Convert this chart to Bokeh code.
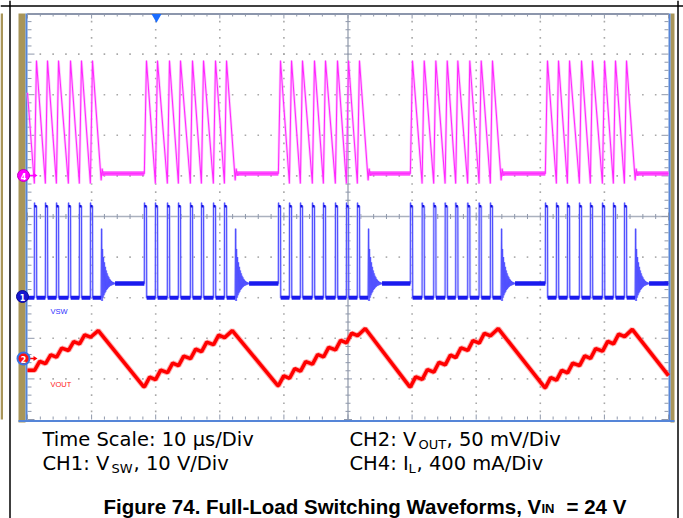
import numpy as np
from bokeh.plotting import figure
from bokeh.models import Range1d
from bokeh.core.properties import value
from bokeh.embed import file_html
from bokeh.resources import INLINE

# ---------------- values ----------------
TIME_PER_DIV_US = 10
N_XDIV, N_YDIV = 10, 10

# instants (us) of the inductor-current peaks of every switching burst
burst_1 = [1.40, 3.12, 4.84, 6.71, 8.42, 10.14]
burst_2 = [18.56, 20.28, 22.15, 23.87, 25.74, 27.46, 29.33, 31.05]
burst_3 = [39.47, 41.19, 42.90, 44.77, 46.49, 48.36, 50.08, 51.79]
burst_4 = [60.06, 61.89, 63.70, 65.48, 67.13, 69.00, 70.78, 72.54]
burst_5 = [81.12, 82.84, 84.56, 86.43, 88.14, 90.02, 91.73, 93.45]
bursts = [burst_1, burst_2, burst_3, burst_4, burst_5]

# CH4 inductor current (divisions on screen)
il_start = 3.05
il_peak = 3.84
il_valley = 0.81
il_zero = 1.06

# CH1 switch node (divisions)
vsw_low = -2.0
vsw_high = 0.25
vsw_overshoot = 0.34
vsw_idle = -1.65
ring_hi = [-0.30, -0.80, -1.00, -1.13, -1.24, -1.33, -1.40, -1.46, -1.50, -1.54, -1.57, -1.59, -1.61, -1.62, -1.63]
ring_lo = [-2.08, -2.00, -1.94, -1.89, -1.85, -1.81, -1.78, -1.75, -1.73, -1.71, -1.70, -1.69, -1.68, -1.67, -1.66]

# CH2 output voltage (divisions)
vout_start = -3.79
vout_end = -3.92
vout_peaks = [-2.81, -2.81, -2.76, -2.76, -2.78]
vout_troughs = [-4.19, -4.16, -4.19, -4.21]   # just before bursts 2..5

# timing (us)
t_on = 0.33
t_decay = 1.35

# ---------------- layout (reference pixel geometry) ----------------
W, H = 683, 518
OX, OY = 0, 0
SX0, SX1, SY0, SY1 = 27, 668, 13, 419
ppx = (SX1 - SX0) / (N_XDIV * TIME_PER_DIV_US)
ppy = (SY1 - SY0) / N_YDIV
SYC = (SY0 + SY1) / 2

p = figure(width=W, height=H, output_backend="svg", toolbar_location=None,
           x_range=Range1d(OX, OX + W), y_range=Range1d(OY + H, OY),
           x_axis_type=None, y_axis_type=None, min_border=0, title=None)
p.outline_line_color = None
p.background_fill_color = "white"
p.border_fill_color = "white"
p.extra_x_ranges = {"t": Range1d((OX - SX0) / ppx, (OX + W - SX0) / ppx)}
p.extra_y_ranges = {"v": Range1d((SYC - (OY + H)) / ppy, (SYC - OY) / ppy)}
S = dict(x_range_name="t", y_range_name="v")

# page frame lines and neighbouring bezel strip
p.quad(left=[0], right=[2.5], top=[13], bottom=[419], fill_color="#a89559", line_color=None)
p.segment(x0=[9.5, 677.5, 0], y0=[0, 0, 5.5], x1=[9.5, 677.5, 683], y1=[518, 518, 5.5],
          line_color="black", line_width=1.5)
# scope bezel
p.quad(left=[18, 670], right=[25, 674], top=[13, 13], bottom=[422, 422],
       fill_color="#a89559", line_color=None)
p.segment(x0=[26, 669, 18], y0=[13, 13, 420.5], x1=[26, 669, 674], y1=[421, 421, 420.5],
          line_color="#5585d8", line_width=2)
p.segment(x0=[27], y0=[13.5], x1=[668], y1=[13.5], line_color="#8c96ac", line_width=2)

# ---------------- graticule (scope units) ----------------
tmax = N_XDIV * TIME_PER_DIV_US
vmax = N_YDIV / 2
minor_t = np.arange(0, tmax + 0.01, TIME_PER_DIV_US / 5)
minor_v = np.round(np.arange(-vmax, vmax + 0.01, 0.2), 3)
major_t = [k * TIME_PER_DIV_US for k in range(1, N_XDIV) if k != N_XDIV // 2]
major_v = [k for k in range(-4, 5) if k != 0]
dx, dy = [], []
for mt in major_t:
    for mv in minor_v[1:-1]:
        dx.append(mt); dy.append(mv)
for mv in major_v:
    for mt in minor_t[1:-1]:
        dx.append(mt); dy.append(mv)
p.scatter(dx, dy, marker="square", size=1.6, fill_color="#a8a8a8", line_color=None, **S)

p.segment(x0=[tmax / 2, 0], y0=[-vmax, 0], x1=[tmax / 2, tmax], y1=[vmax, 0],
          line_color="#aab1be", line_width=1.6, **S)

def is_major_t(t):
    return abs(t / TIME_PER_DIV_US - round(t / TIME_PER_DIV_US)) < 1e-6

def is_major_v(v):
    return abs(v - round(v)) < 1e-6

tx0, ty0, tx1, ty1 = [], [], [], []
for t in minor_t:
    h1 = (5 if is_major_t(t) else 3) / ppy
    hc = (4 if is_major_t(t) else 2.5) / ppy
    tx0 += [t, t, t]; tx1 += [t, t, t]
    ty0 += [vmax, -vmax, -hc]; ty1 += [vmax - h1, -vmax + h1, hc]
for v in minor_v:
    w1 = (7 if is_major_v(v) else 4) / ppx
    wc = (4 if is_major_v(v) else 2.5) / ppx
    ty0 += [v, v, v]; ty1 += [v, v, v]
    tx0 += [0, tmax, tmax / 2 - wc]; tx1 += [w1, tmax - w1, tmax / 2 + wc]
p.segment(x0=tx0, y0=ty0, x1=tx1, y1=ty1, line_color="#8f98ab", line_width=1, **S)

# ---------------- traces ----------------
def build_il():
    t = [0.0]; v = [il_start]; flats = []
    for bi, b in enumerate(bursts):
        for i, pk in enumerate(b):
            t.append(pk - t_on); v.append(il_zero if (bi > 0 and i == 0) else il_valley)
            t.append(pk); v.append(il_peak)
        te = b[-1] + t_decay
        t += [te, te + 0.15, te + 0.35, te + 0.6]
        v += [il_valley + 0.08, il_zero + 0.12, il_zero - 0.05, il_zero]
        end = bursts[bi + 1][0] - t_on if bi + 1 < len(bursts) else tmax
        flats.append((te + 0.15, end))
    t.append(tmax); v.append(il_zero)
    return t, v, flats

def build_vsw():
    t = [0.0]; v = [vsw_low]; lows = []; idles = []; tops = []
    prev = 0.0
    for bi, b in enumerate(bursts):
        for i, pk in enumerate(b):
            r = pk - t_on
            lvl = vsw_idle if (bi > 0 and i == 0) else vsw_low
            if lvl == vsw_low:
                lows.append((prev, r))
            t += [r, r + 0.02, r + 0.07, pk, pk + 0.03]
            v += [lvl, vsw_overshoot, vsw_high, vsw_high, vsw_low]
            tops.append((r + 0.02, pk))
            prev = pk + 0.03
        rs = b[-1] + t_decay
        lows.append((prev, rs))
        t.append(rs); v.append(vsw_low)
        dt = 0.07
        for k, (hi, lo) in enumerate(zip(ring_hi, ring_lo)):
            t += [rs + dt * (2 * k + 1), rs + dt * (2 * k + 2)]
            v += [hi, lo]
        re = rs + dt * (2 * len(ring_hi) + 1)
        t.append(re); v.append(vsw_idle)
        end = bursts[bi + 1][0] - t_on if bi + 1 < len(bursts) else tmax
        idles.append((re, end))
    t.append(tmax); v.append(vsw_idle)
    return t, v, lows, idles, tops

def build_vout():
    t = [0.0]; v = [vout_start]
    starts = [(0.0, vout_start)] + [(b[0] - 0.45, tr) for b, tr in zip(bursts[1:], vout_troughs)]
    for bi, b in enumerate(bursts):
        ts, vs = starts[bi]
        if bi > 0:
            t.append(ts); v.append(vs)
        n = len(b); step = (vout_peaks[bi] - vs) / n
        for i, pk in enumerate(b):
            base = vs + i * step
            t.append(pk - 0.3); v.append(base)
            if i < n - 1:
                t.append(pk + 0.5); v.append(base + 1.35 * step)
            else:
                t.append(pk + 0.9); v.append(vout_peaks[bi])
    t.append(tmax); v.append(vout_end)
    return t, v

il_t, il_v, il_flats = build_il()
sw_t, sw_v, sw_lows, sw_idles, sw_tops = build_vsw()
vo_t, vo_v = build_vout()

# CH4
p.line(il_t, il_v, line_color="#ffa8ff", line_width=2.6, line_alpha=0.65, **S)
p.line(il_t, il_v, line_color="#ff28ff", line_width=1.05, **S)
p.segment(x0=[a for a, b in il_flats], x1=[b for a, b in il_flats],
          y0=[il_zero] * len(il_flats), y1=[il_zero] * len(il_flats),
          line_color="#ff30ff", line_width=4.5, line_alpha=0.85, **S)
# CH1
p.line(sw_t, sw_v, line_color="#a8a8ff", line_width=2.6, line_alpha=0.6, **S)
p.line(sw_t, sw_v, line_color="#5050ff", line_width=1.0, **S)
p.segment(x0=[a for a, b in sw_lows], x1=[b for a, b in sw_lows],
          y0=[vsw_low] * len(sw_lows), y1=[vsw_low] * len(sw_lows),
          line_color="#1a1aee", line_width=4, **S)
p.segment(x0=[a for a, b in sw_idles], x1=[b for a, b in sw_idles],
          y0=[vsw_idle] * len(sw_idles), y1=[vsw_idle] * len(sw_idles),
          line_color="#1a1aee", line_width=4.5, **S)
p.segment(x0=[a for a, b in sw_tops], x1=[b for a, b in sw_tops],
          y0=[vsw_high] * len(sw_tops), y1=[vsw_high] * len(sw_tops),
          line_color="#1010dd", line_width=2.5, **S)
# CH2
p.line(vo_t, vo_v, line_color="#ff5050", line_width=5.5, line_alpha=0.45, **S)
p.line(vo_t, vo_v, line_color="#ff0000", line_width=3.5, **S)

# ---------------- markers and small scope labels (reference pixels) ----------------
p.scatter([156], [16.5], marker="inverted_triangle", size=10, fill_color="#1a6cff", line_color=None)
p.segment(x0=[28, 28], y0=[175, 358], x1=[34, 34], y1=[175, 358],
          line_color=["#ff00ff", "#ff0000"], line_width=1.5)
p.patches(xs=[[33, 37, 33], [33, 37, 33]], ys=[[172.5, 175, 177.5], [355.5, 358, 360.5]],
          fill_color=["#ff00ff", "#ff0000"], line_color=None)
p.scatter([23, 22, 23], [175, 296, 358], marker="circle", size=[12, 12, 12],
          fill_color=["#ff00ff", "#1515d0", "#ff1010"],
          line_color=["#c000c0", "#0b0b90", "#3a72e0"], line_width=[1, 1, 2])
p.text([23, 22, 23], [175.5, 296.5, 358.5], text=["4", "1", "2"], text_color="white",
       text_font=value("DejaVu Sans"), text_font_size=value("8px"), text_font_style="bold",
       text_align="center", text_baseline="middle")
p.text([50], [311], text=["VSW"], text_color="#3030ff", text_font=value("Liberation Sans"),
       text_font_size=value("7.5px"), text_align="left", text_baseline="middle")
p.text([50], [384], text=["VOUT"], text_color="#ff2020", text_font=value("Liberation Sans"),
       text_font_size=value("7.5px"), text_align="left", text_baseline="middle")

# ---------------- caption texts ----------------
DY = -7  # renderer places alphabetic baselines slightly low
F = value("DejaVu Sans")
main_txt = dict(text_font=F, text_font_size=value("19.5px"), text_color="black",
                text_align="left", text_baseline="alphabetic")
sub_txt = dict(text_font=F, text_font_size=value("13px"), text_color="black",
               text_align="left", text_baseline="alphabetic")
L1, L2 = 445.7 + DY, 469.7 + DY
p.text([42, 42, 133, 349, 349, 446, 416],
       [L1, L2, L2, L1, L2, L1, L2],
       text=["Time Scale: 10 µs/Div", "CH1: V", ", 10 V/Div", "CH2: V", "CH4: I",
             ", 50 mV/Div", ", 400 mA/Div"], **main_txt)
p.text([111, 418, 408], [L2 + 4.8, L1 + 4.8, L2 + 4.8], text=["SW", "OUT", "L"], **sub_txt)

CF = value("Liberation Sans")
CB = 513 + DY
p.text([103], [CB], text=["Figure 74. Full-Load Switching Waveforms, V"], text_font=CF,
       text_font_size=value("20.5px"), text_font_style="bold", text_color="black",
       text_align="left", text_baseline="alphabetic")
p.text([541], [CB + 2], text=["IN"], text_font=CF, text_font_size=value("13px"),
       text_font_style="bold", text_color="black", text_align="left", text_baseline="alphabetic")
p.text([566], [CB], text=["= 24 V"], text_font=CF, text_font_size=value("20.5px"),
       text_font_style="bold", text_color="black", text_align="left", text_baseline="alphabetic")

open("out.html", "w").write(file_html(p, INLINE))
